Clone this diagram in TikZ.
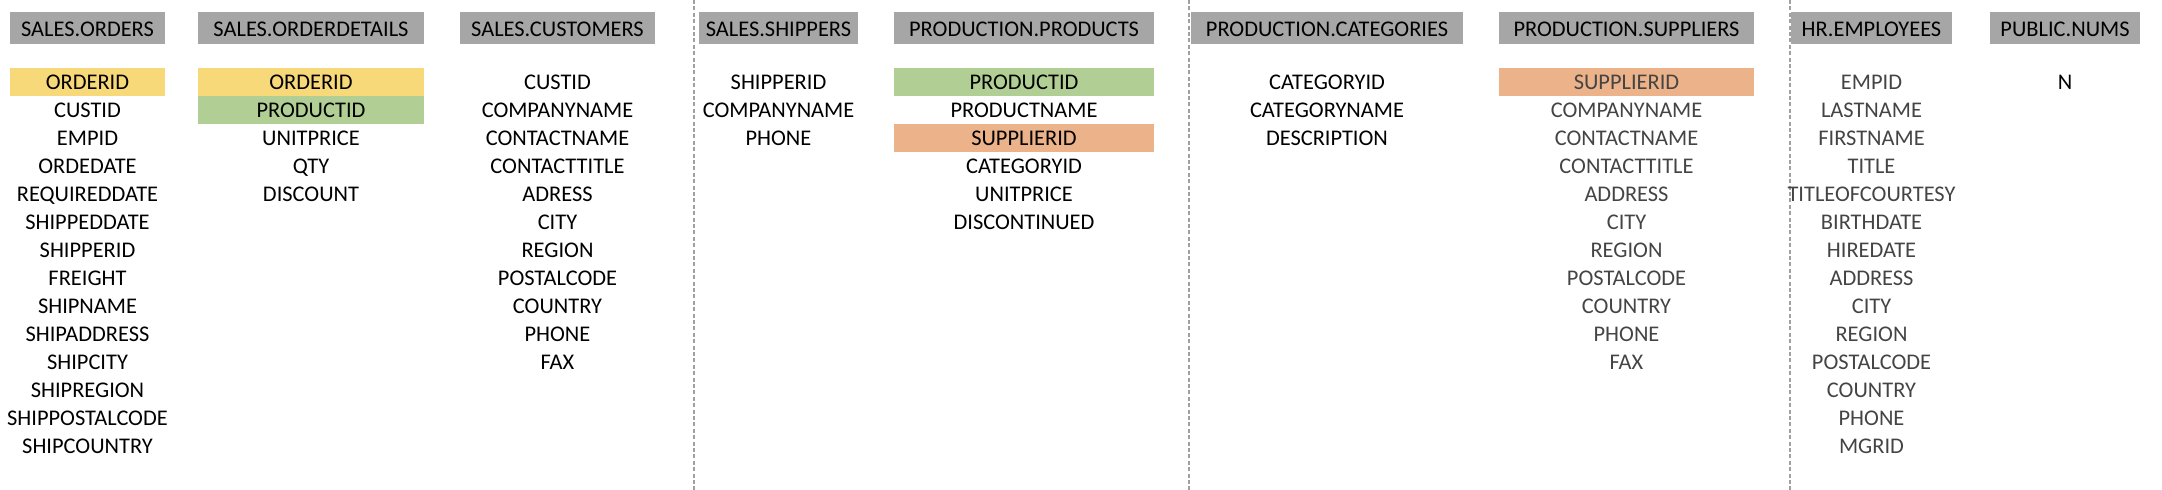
\documentclass[tikz,border=0pt]{standalone}
\usepackage{fontspec}
\setmainfont{Carlito}
\definecolor{hdrgray}{HTML}{A6A6A6}
\definecolor{keyyellow}{HTML}{F8D97A}
\definecolor{keygreen}{HTML}{B1CF94}
\definecolor{keyorange}{HTML}{ECB28A}
\definecolor{softtext}{HTML}{444444}
\definecolor{sepgray}{HTML}{A0A0A0}
\tikzset{
	tabtitle/.style={anchor=base, inner sep=0pt, font=\fontsize{11.2}{13}\selectfont},
	field/.style={anchor=base, inner sep=0pt, font=\fontsize{11.2}{13}\selectfont},
	softfield/.style={field, text=softtext},
	sep/.style={sepgray, line width=.6pt, dash pattern=on 2pt off 1.2pt}
}
\begin{document}
\begin{tikzpicture}[x=.5pt, y=-.5pt]
		\useasboundingbox (0,0) rectangle (2162,490);
		% dashed separators between groups
		\foreach \x in {694,1189,1790}\draw[sep](\x,0)--(\x,490);
		% key fields
		\fill[keyyellow](10,68)rectangle(165,96);
		\fill[keyyellow](198,68)rectangle(424,96);
		\fill[keygreen](198,96)rectangle(424,124);
		\fill[keygreen](894,68)rectangle(1154,96);
		\fill[keyorange](894,124)rectangle(1154,152);
		\fill[keyorange](1499,68)rectangle(1754,96);
		% headers
		\fill[hdrgray](10,12)rectangle(165,44);
		\fill[hdrgray](198,12)rectangle(424,44);
		\fill[hdrgray](460,12)rectangle(655,44);
		\fill[hdrgray](699,12)rectangle(858,44);
		\fill[hdrgray](894,12)rectangle(1154,44);
		\fill[hdrgray](1191,12)rectangle(1463,44);
		\fill[hdrgray](1499,12)rectangle(1754,44);
		\fill[hdrgray](1791,12)rectangle(1952,44);
		\fill[hdrgray](1990,12)rectangle(2140,44);
		\node[tabtitle](orders) at (87.5,37){SALES.ORDERS};
		\node[tabtitle](details) at (311,37){SALES.ORDERDETAILS};
		\node[tabtitle](customers) at (557.5,37){SALES.CUSTOMERS};
		\node[tabtitle](shippers) at (778.5,37){SALES.SHIPPERS};
		\node[tabtitle](products) at (1024,37){PRODUCTION.PRODUCTS};
		\node[tabtitle](categories) at (1327,37){PRODUCTION.CATEGORIES};
		\node[tabtitle](suppliers) at (1626.5,37){PRODUCTION.SUPPLIERS};
		\node[tabtitle](employees) at (1871.5,37){HR.EMPLOYEES};
		\node[tabtitle](nums) at (2065,37){PUBLIC.NUMS};
		% columns
		\foreach \f[count=\i] in {ORDERID,CUSTID,EMPID,ORDEDATE,REQUIREDDATE,SHIPPEDDATE,SHIPPERID,FREIGHT,SHIPNAME,SHIPADDRESS,SHIPCITY,SHIPREGION,SHIPPOSTALCODE,SHIPCOUNTRY}
			\node[field](orders-\i) at (87.5,{90+28*(\i-1)}){\f};
		\foreach \f[count=\i] in {ORDERID,PRODUCTID,UNITPRICE,QTY,DISCOUNT}
			\node[field](details-\i) at (311,{90+28*(\i-1)}){\f};
		\foreach \f[count=\i] in {CUSTID,COMPANYNAME,CONTACTNAME,CONTACTTITLE,ADRESS,CITY,REGION,POSTALCODE,COUNTRY,PHONE,FAX}
			\node[field](customers-\i) at (557.5,{90+28*(\i-1)}){\f};
		\foreach \f[count=\i] in {SHIPPERID,COMPANYNAME,PHONE}
			\node[field](shippers-\i) at (778.5,{90+28*(\i-1)}){\f};
		\foreach \f[count=\i] in {PRODUCTID,PRODUCTNAME,SUPPLIERID,CATEGORYID,UNITPRICE,DISCONTINUED}
			\node[field](products-\i) at (1024,{90+28*(\i-1)}){\f};
		\foreach \f[count=\i] in {CATEGORYID,CATEGORYNAME,DESCRIPTION}
			\node[field](categories-\i) at (1327,{90+28*(\i-1)}){\f};
		\foreach \f[count=\i] in {SUPPLIERID,COMPANYNAME,CONTACTNAME,CONTACTTITLE,ADDRESS,CITY,REGION,POSTALCODE,COUNTRY,PHONE,FAX}
			\node[softfield](suppliers-\i) at (1626.5,{90+28*(\i-1)}){\f};
		\foreach \f[count=\i] in {EMPID,LASTNAME,FIRSTNAME,TITLE,TITLEOFCOURTESY,BIRTHDATE,HIREDATE,ADDRESS,CITY,REGION,POSTALCODE,COUNTRY,PHONE,MGRID}
			\node[softfield](employees-\i) at (1871.5,{90+28*(\i-1)}){\f};
		\node[field](nums-1) at (2065,90){N};
		
	\end{tikzpicture}
\end{document}
